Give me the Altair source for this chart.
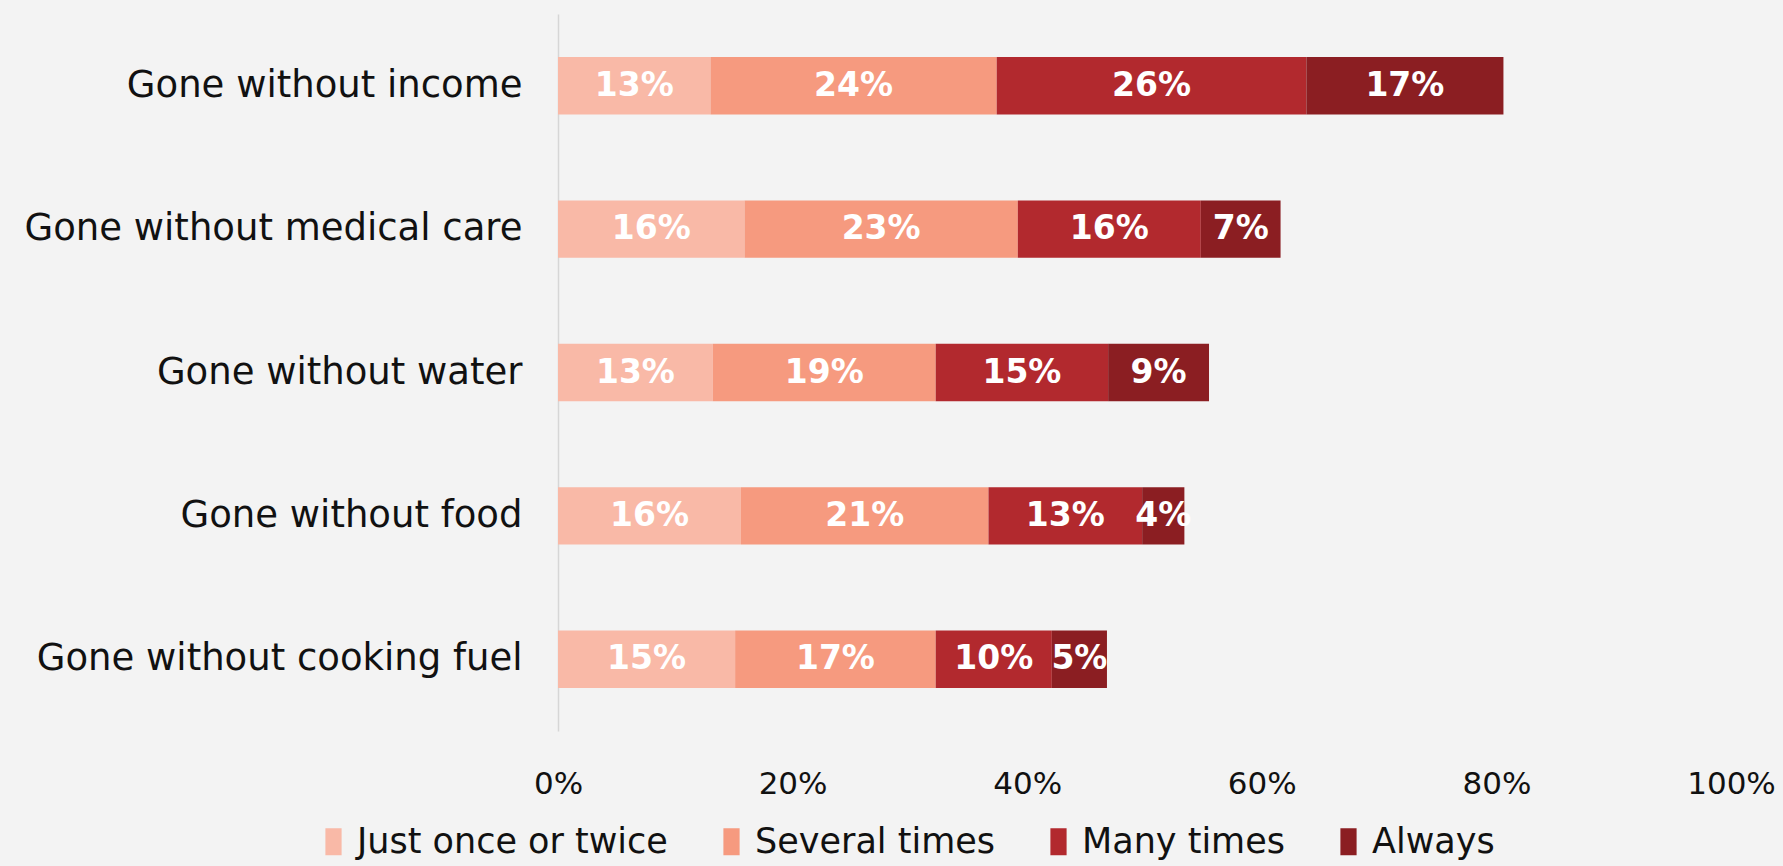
import altair as alt
import pandas as pd

categories = ["Gone without income", "Gone without medical care", "Gone without water",
              "Gone without food", "Gone without cooking fuel"]
series = ["Just once or twice", "Several times", "Many times", "Always"]
colors = ["#F9B9A7", "#F69A7F", "#B2292E", "#8B1E22"]

once = [13.0, 15.9, 13.2, 15.6, 15.1]
several = [24.4, 23.3, 19.0, 21.1, 17.1]
many = [26.4, 15.6, 14.7, 13.1, 9.9]
always = [16.8, 6.8, 8.6, 3.6, 4.7]

x_ticks = [0, 20, 40, 60, 80, 100]

rows = []
for si, (name, vals) in enumerate(zip(series, [once, several, many, always])):
    for c, v in zip(categories, vals):
        rows.append({"category": c, "series": name, "order": si, "value": v})
df = pd.DataFrame(rows)

FONT = "DejaVu Sans"

base = alt.Chart(df).transform_stack(
    stack="value", groupby=["category"], as_=["x0", "x1"],
    sort=[alt.SortField("order", order="ascending")]
).transform_calculate(
    mid="(datum.x0 + datum.x1) / 2",
    label="format(datum.value, '.0f') + '%'"
)

y_enc = alt.Y("category:N", sort=categories, title=None,
              scale=alt.Scale(paddingInner=0.6, paddingOuter=0.3),
              axis=alt.Axis(labelFontSize=37, labelFont=FONT, labelColor="#111111",
                            labelPadding=36, ticks=False, domainColor="#d6d6d6",
                            domainWidth=1.5, labelLimit=800))

bars = base.mark_bar().encode(
    x=alt.X("x0:Q", title=None,
            scale=alt.Scale(domain=[0, 100], nice=False),
            axis=alt.Axis(values=x_ticks, labelExpr="datum.value + '%'",
                          labelFontSize=31, labelFont=FONT, labelColor="#111111",
                          labelPadding=38, labelFlush=False, ticks=False,
                          domain=False, grid=False)),
    x2="x1:Q",
    y=y_enc,
    color=alt.Color("series:N", sort=series,
                    scale=alt.Scale(domain=series, range=colors),
                    legend=alt.Legend(title=None, orient="none", direction="horizontal",
                                      legendX=-242, legendY=810,
                                      labelFontSize=35, labelFont=FONT, labelColor="#111111",
                                      labelLimit=800,
                                      symbolType="M-0.6,-1H0.6V1H-0.6Z",
                                      symbolSize=729, symbolStrokeWidth=0,
                                      labelOffset=6, columnPadding=46)),
    order=alt.Order("order:Q")
)

text = base.mark_text(color="white", fontWeight="bold", fontSize=33, font=FONT).encode(
    x="mid:Q",
    y=alt.Y("category:N", sort=categories),
    text="label:N"
)

chart = (bars + text).properties(
    width=1173, height=717,
    background="#f3f3f3",
    padding={"left": 558, "top": 14, "right": 52, "bottom": 135},
    autosize=alt.AutoSizeParams(type="none")
).configure_view(stroke=None)

chart.save("out.html", embed_options={"renderer": "svg", "actions": False})
